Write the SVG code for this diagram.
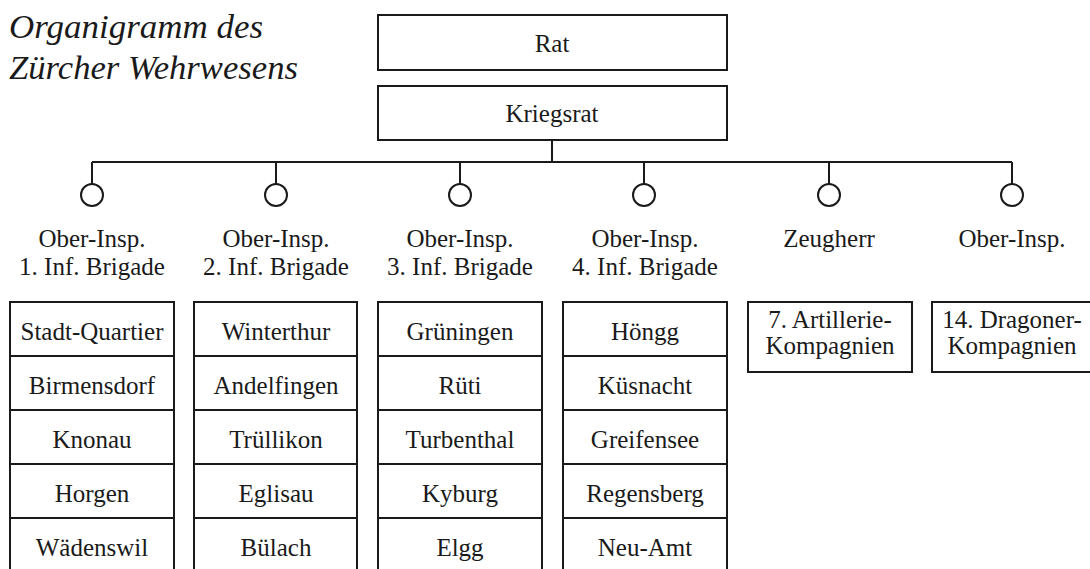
<svg xmlns="http://www.w3.org/2000/svg" width="1090" height="569" viewBox="0 0 1090 569">
<style>
.t{font-size:25px;fill:#1a1a1a;text-anchor:middle}
.title{font-style:italic;font-size:34px;fill:#1a1a1a}
.box{fill:none;stroke:#1a1a1a;stroke-width:2}
.ln{fill:none;stroke:#1a1a1a;stroke-width:2}
</style>
<rect width="1090" height="569" fill="#fff"/>
<g font-family="Liberation Serif, DejaVu Serif, serif">
<g id="title">
<text class="title" x="9" y="38" textLength="254" lengthAdjust="spacingAndGlyphs">Organigramm des</text>
<text class="title" x="9" y="79" textLength="289" lengthAdjust="spacingAndGlyphs">Zürcher Wehrwesens</text>
</g>
<g id="connectors">
<path class="ln" d="M552 140V162M92 162H1012M92 162V184M276 162V184M460 162V184M644 162V184M829 162V184M1012 162V184"/>
<circle class="ln" cx="92" cy="195" r="11"/>
<circle class="ln" cx="276" cy="195" r="11"/>
<circle class="ln" cx="460" cy="195" r="11"/>
<circle class="ln" cx="644" cy="195" r="11"/>
<circle class="ln" cx="829" cy="195" r="11"/>
<circle class="ln" cx="1012" cy="195" r="11"/>
</g>
<g id="rat"><rect class="box" x="378" y="15" width="349" height="55"/><text class="t" x="552" y="52">Rat</text></g>
<g id="kriegsrat"><rect class="box" x="378" y="86" width="349" height="54"/><text class="t" x="552" y="122">Kriegsrat</text></g>
<g id="label1"><text class="t" x="92" y="247">Ober-Insp.</text><text class="t" x="92" y="275">1. Inf. Brigade</text></g>
<g id="label2"><text class="t" x="276" y="247">Ober-Insp.</text><text class="t" x="276" y="275">2. Inf. Brigade</text></g>
<g id="label3"><text class="t" x="460" y="247">Ober-Insp.</text><text class="t" x="460" y="275">3. Inf. Brigade</text></g>
<g id="label4"><text class="t" x="645" y="247">Ober-Insp.</text><text class="t" x="645" y="275">4. Inf. Brigade</text></g>
<g id="label5"><text class="t" x="829" y="247">Zeugherr</text></g>
<g id="label6"><text class="t" x="1012" y="247">Ober-Insp.</text></g>
<g id="col1">
<path class="box" d="M10 571V302H174V571M10 356H174M10 410H174M10 464H174M10 518H174"/>
<text class="t" x="92" y="340">Stadt-Quartier</text>
<text class="t" x="92" y="394">Birmensdorf</text>
<text class="t" x="92" y="448">Knonau</text>
<text class="t" x="92" y="502">Horgen</text>
<text class="t" x="92" y="556">Wädenswil</text>
</g>
<g id="col2">
<path class="box" d="M194 571V302H357V571M194 356H357M194 410H357M194 464H357M194 518H357"/>
<text class="t" x="276" y="340">Winterthur</text>
<text class="t" x="276" y="394">Andelfingen</text>
<text class="t" x="276" y="448">Trüllikon</text>
<text class="t" x="276" y="502">Eglisau</text>
<text class="t" x="276" y="556">Bülach</text>
</g>
<g id="col3">
<path class="box" d="M378 571V302H542V571M378 356H542M378 410H542M378 464H542M378 518H542"/>
<text class="t" x="460" y="340">Grüningen</text>
<text class="t" x="460" y="394">Rüti</text>
<text class="t" x="460" y="448">Turbenthal</text>
<text class="t" x="460" y="502">Kyburg</text>
<text class="t" x="460" y="556">Elgg</text>
</g>
<g id="col4">
<path class="box" d="M563 571V302H727V571M563 356H727M563 410H727M563 464H727M563 518H727"/>
<text class="t" x="645" y="340">Höngg</text>
<text class="t" x="645" y="394">Küsnacht</text>
<text class="t" x="645" y="448">Greifensee</text>
<text class="t" x="645" y="502">Regensberg</text>
<text class="t" x="645" y="556">Neu-Amt</text>
</g>
<g id="artillerie">
<rect class="box" x="748" y="302" width="164" height="70"/>
<text class="t" x="830" y="328">7. Artillerie-</text>
<text class="t" x="830" y="354">Kompagnien</text>
</g>
<g id="dragoner">
<rect class="box" x="932" y="302" width="160" height="70"/>
<text class="t" x="1012" y="328">14. Dragoner-</text>
<text class="t" x="1012" y="354">Kompagnien</text>
</g>
</g>
</svg>
